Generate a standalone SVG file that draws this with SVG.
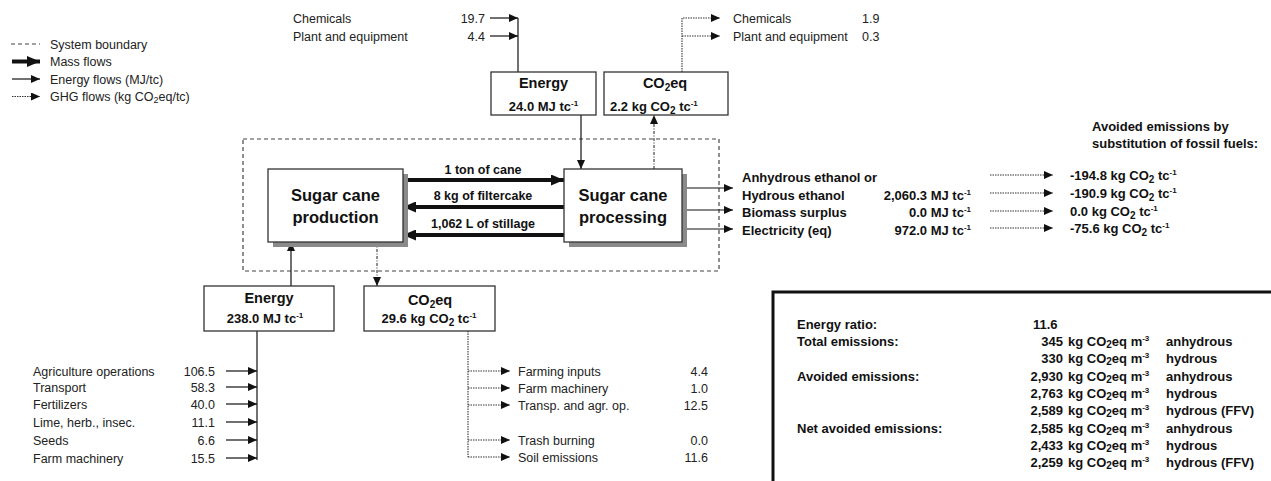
<svg xmlns="http://www.w3.org/2000/svg" width="1271" height="481" viewBox="0 0 1271 481">
<defs>
<style>
text{font-family:"Liberation Sans",Arial,sans-serif;fill:#222;font-size:12.5px}
.b{font-weight:bold;fill:#111}
.bx{font-weight:bold;fill:#111;font-size:13px}
.h{font-weight:bold;fill:#111;font-size:14.5px}
.big{font-weight:bold;fill:#111;font-size:16.5px}
.box{fill:#fff;stroke:#333;stroke-width:1.3}
.sh{fill:#8a8a8a}
.en{stroke:#111;stroke-width:1.2;fill:none}
.ms{stroke:#111;stroke-width:4;fill:none}
.gh{stroke:#333;stroke-width:1.1;stroke-dasharray:1.5 1;fill:none}
.dd{stroke:#333;stroke-width:1.1;stroke-dasharray:3 1.5 1 1.5;fill:none}
.bd{stroke:#444;stroke-width:1.2;stroke-dasharray:4 3;fill:none}
</style>
<marker id="a" markerUnits="userSpaceOnUse" markerWidth="9" markerHeight="8" refX="9" refY="4" orient="auto"><path d="M0,0 L9,4 L0,8 z" fill="#111"/></marker>
<marker id="am" markerUnits="userSpaceOnUse" markerWidth="13" markerHeight="11" refX="13" refY="5.5" orient="auto"><path d="M0,0 L13,5.5 L0,11 z" fill="#111"/></marker>
</defs>

<g id="legend">
<line class="bd" x1="11" y1="44" x2="40" y2="44"/>
<text x="50" y="48.5">System boundary</text>
<line class="ms" x1="12" y1="61.5" x2="40" y2="61.5" marker-end="url(#am)"/>
<text x="50" y="66">Mass flows</text>
<line class="en" x1="12" y1="79" x2="40" y2="79" marker-end="url(#a)"/>
<text x="50" y="83.5">Energy flows (MJ/tc)</text>
<line class="gh" x1="12" y1="96.5" x2="40" y2="96.5" marker-end="url(#a)"/>
<text x="50" y="101">GHG flows (kg CO<tspan font-size="9" dy="2">2</tspan><tspan dy="-2">eq/tc)</tspan></text>
</g>

<g id="boundary">
<rect class="bd" x="243" y="139" width="476" height="132"/>
</g>

<g id="connectors">
<!-- top energy inputs -->
<line class="en" x1="490" y1="18" x2="518" y2="18" marker-end="url(#a)"/>
<line class="en" x1="490" y1="36" x2="518" y2="36" marker-end="url(#a)"/>
<line class="en" x1="518" y1="18" x2="518" y2="72"/>
<line class="en" x1="581" y1="115" x2="581" y2="169" marker-end="url(#a)"/>
<!-- top GHG -->
<line class="dd" x1="654" y1="169" x2="654" y2="115" marker-end="url(#a)"/>
<polyline class="gh" points="682,72 682,18 720,18" marker-end="url(#a)"/>
<line class="gh" x1="682" y1="36" x2="720" y2="36" marker-end="url(#a)"/>
<!-- mass flows -->
<line class="ms" x1="403" y1="180" x2="564" y2="180" marker-end="url(#am)"/>
<line class="ms" x1="564" y1="207" x2="403" y2="207" marker-end="url(#am)"/>
<line class="ms" x1="564" y1="235" x2="403" y2="235" marker-end="url(#am)"/>
<!-- outputs -->
<line class="en" x1="682" y1="188" x2="733" y2="188" marker-end="url(#a)"/>
<line class="en" x1="682" y1="210" x2="733" y2="210" marker-end="url(#a)"/>
<line class="en" x1="682" y1="229" x2="733" y2="229" marker-end="url(#a)"/>
<line class="gh" x1="990" y1="175" x2="1053" y2="175" marker-end="url(#a)"/>
<line class="gh" x1="990" y1="193" x2="1053" y2="193" marker-end="url(#a)"/>
<line class="gh" x1="990" y1="211" x2="1053" y2="211" marker-end="url(#a)"/>
<line class="gh" x1="990" y1="228" x2="1053" y2="228" marker-end="url(#a)"/>
<!-- bottom -->
<line class="en" x1="291" y1="286" x2="291" y2="242" marker-end="url(#a)"/>
<line class="dd" x1="377" y1="242" x2="377" y2="286" marker-end="url(#a)"/>
<line class="en" x1="257" y1="331" x2="257" y2="460"/>
<line class="en" x1="226" y1="371" x2="257" y2="371" marker-end="url(#a)"/>
<line class="en" x1="226" y1="387" x2="257" y2="387" marker-end="url(#a)"/>
<line class="en" x1="226" y1="404" x2="257" y2="404" marker-end="url(#a)"/>
<line class="en" x1="226" y1="422" x2="257" y2="422" marker-end="url(#a)"/>
<line class="en" x1="226" y1="440" x2="257" y2="440" marker-end="url(#a)"/>
<line class="en" x1="226" y1="458" x2="257" y2="458" marker-end="url(#a)"/>
<line class="gh" x1="468" y1="331" x2="468" y2="457"/>
<line class="gh" x1="468" y1="371" x2="510" y2="371" marker-end="url(#a)"/>
<line class="gh" x1="468" y1="388" x2="510" y2="388" marker-end="url(#a)"/>
<line class="gh" x1="468" y1="405" x2="510" y2="405" marker-end="url(#a)"/>
<line class="gh" x1="468" y1="440" x2="510" y2="440" marker-end="url(#a)"/>
<line class="gh" x1="468" y1="457" x2="510" y2="457" marker-end="url(#a)"/>
</g>

<g id="top-inputs">
<text x="293" y="22.5">Chemicals</text>
<text x="485" y="22.5" text-anchor="end">19.7</text>
<text x="293" y="40.5">Plant and equipment</text>
<text x="485" y="40.5" text-anchor="end">4.4</text>
</g>

<g id="top-ghg">
<text x="733" y="22.5">Chemicals</text>
<text x="862" y="22.5">1.9</text>
<text x="733" y="40.5">Plant and equipment</text>
<text x="862" y="40.5">0.3</text>
</g>

<g id="energy-top">
<rect class="box" x="491" y="72" width="105" height="43"/>
<text class="h" x="543.5" y="88" text-anchor="middle">Energy</text>
<text class="bx" x="543.5" y="111" text-anchor="middle">24.0 MJ tc<tspan font-size="8" dy="-5">-1</tspan></text>
</g>

<g id="co2-top">
<rect class="box" x="604" y="72" width="124" height="43"/>
<text class="h" x="665" y="88" text-anchor="middle">CO<tspan font-size="10" dy="3">2</tspan><tspan dy="-3">eq</tspan></text>
<text class="bx" x="610" y="111">2.2 kg CO<tspan font-size="10" dy="3">2</tspan><tspan dy="-3"> tc</tspan><tspan font-size="8" dy="-5">-1</tspan></text>
</g>

<g id="production">
<rect class="sh" x="273" y="174" width="135" height="73"/>
<rect class="box" x="268" y="169" width="135" height="73"/>
<text class="big" x="335.5" y="201" text-anchor="middle">Sugar cane</text>
<text class="big" x="335.5" y="223" text-anchor="middle">production</text>
</g>

<g id="processing">
<rect class="sh" x="569" y="174" width="118" height="73"/>
<rect class="box" x="564" y="169" width="118" height="73"/>
<text class="big" x="623" y="201" text-anchor="middle">Sugar cane</text>
<text class="big" x="623" y="223" text-anchor="middle">processing</text>
</g>

<g id="mass-labels">
<text class="b" x="483" y="173.5" text-anchor="middle">1 ton of cane</text>
<text class="b" x="483" y="200" text-anchor="middle">8 kg of filtercake</text>
<text class="b" x="483" y="227.5" text-anchor="middle">1,062 L of stillage</text>
</g>

<g id="outputs">
<text class="bx" x="742" y="181.5">Anhydrous ethanol or</text>
<text class="bx" x="742" y="199.5">Hydrous ethanol</text>
<text class="bx" x="971" y="199.5" text-anchor="end">2,060.3 MJ tc<tspan font-size="8" dy="-5">-1</tspan></text>
<text class="bx" x="742" y="216.5">Biomass surplus</text>
<text class="bx" x="971" y="216.5" text-anchor="end">0.0 MJ tc<tspan font-size="8" dy="-5">-1</tspan></text>
<text class="bx" x="742" y="234.5">Electricity (eq)</text>
<text class="bx" x="971" y="234.5" text-anchor="end">972.0 MJ tc<tspan font-size="8" dy="-5">-1</tspan></text>
</g>

<g id="avoided">
<text class="bx" x="1092" y="131">Avoided emissions by</text>
<text class="bx" x="1092" y="148">substitution of fossil fuels:</text>
<text class="bx" x="1070" y="179.5">-194.8 kg CO<tspan font-size="10" dy="3">2</tspan><tspan dy="-3"> tc</tspan><tspan font-size="8" dy="-5">-1</tspan></text>
<text class="bx" x="1070" y="197.5">-190.9 kg CO<tspan font-size="10" dy="3">2</tspan><tspan dy="-3"> tc</tspan><tspan font-size="8" dy="-5">-1</tspan></text>
<text class="bx" x="1070" y="215.5">0.0 kg CO<tspan font-size="10" dy="3">2</tspan><tspan dy="-3"> tc</tspan><tspan font-size="8" dy="-5">-1</tspan></text>
<text class="bx" x="1070" y="232.5">-75.6 kg CO<tspan font-size="10" dy="3">2</tspan><tspan dy="-3"> tc</tspan><tspan font-size="8" dy="-5">-1</tspan></text>
</g>

<g id="energy-bottom">
<rect class="box" x="204" y="286" width="130" height="45"/>
<text class="h" x="269" y="303" text-anchor="middle">Energy</text>
<text class="bx" x="265" y="323" text-anchor="middle">238.0 MJ tc<tspan font-size="8" dy="-5">-1</tspan></text>
</g>

<g id="co2-bottom">
<rect class="box" x="364" y="286" width="131" height="45"/>
<text class="h" x="430" y="305" text-anchor="middle">CO<tspan font-size="10" dy="3">2</tspan><tspan dy="-3">eq</tspan></text>
<text class="bx" x="429" y="323" text-anchor="middle">29.6 kg CO<tspan font-size="10" dy="3">2</tspan><tspan dy="-3"> tc</tspan><tspan font-size="8" dy="-5">-1</tspan></text>
</g>

<g id="energy-inputs">
<text x="33" y="375.5">Agriculture operations</text><text x="215" y="375.5" text-anchor="end">106.5</text>
<text x="33" y="391.5">Transport</text><text x="215" y="391.5" text-anchor="end">58.3</text>
<text x="33" y="408.5">Fertilizers</text><text x="215" y="408.5" text-anchor="end">40.0</text>
<text x="33" y="426.5">Lime, herb., insec.</text><text x="215" y="426.5" text-anchor="end">11.1</text>
<text x="33" y="444.5">Seeds</text><text x="215" y="444.5" text-anchor="end">6.6</text>
<text x="33" y="462.5">Farm machinery</text><text x="215" y="462.5" text-anchor="end">15.5</text>
</g>

<g id="ghg-outputs">
<text x="518" y="375.5">Farming inputs</text><text x="708" y="375.5" text-anchor="end">4.4</text>
<text x="518" y="392.5">Farm machinery</text><text x="708" y="392.5" text-anchor="end">1.0</text>
<text x="518" y="409.5">Transp. and agr. op.</text><text x="708" y="409.5" text-anchor="end">12.5</text>
<text x="518" y="444.5">Trash burning</text><text x="708" y="444.5" text-anchor="end">0.0</text>
<text x="518" y="461.5">Soil emissions</text><text x="708" y="461.5" text-anchor="end">11.6</text>
</g>

<g id="summary">
<rect x="773" y="292" width="520" height="200" fill="#fff" stroke="#111" stroke-width="3"/>
<g class="bx">
<text class="bx" x="797" y="328.5">Energy ratio:</text>
<text class="bx" x="1033" y="328.5">11.6</text>
<text class="bx" x="797" y="346">Total emissions:</text>
<text class="bx" x="1063" y="346" text-anchor="end">345</text><text class="bx" x="1068" y="346">kg CO<tspan font-size="10" dy="2">2</tspan><tspan dy="-2">eq m</tspan><tspan font-size="8" dy="-5">-3</tspan></text><text class="bx" x="1166" y="346">anhydrous</text>
<text class="bx" x="1063" y="362.5" text-anchor="end">330</text><text class="bx" x="1068" y="362.5">kg CO<tspan font-size="10" dy="2">2</tspan><tspan dy="-2">eq m</tspan><tspan font-size="8" dy="-5">-3</tspan></text><text class="bx" x="1166" y="362.5">hydrous</text>
<text class="bx" x="797" y="380.5">Avoided emissions:</text>
<text class="bx" x="1063" y="380.5" text-anchor="end">2,930</text><text class="bx" x="1068" y="380.5">kg CO<tspan font-size="10" dy="2">2</tspan><tspan dy="-2">eq m</tspan><tspan font-size="8" dy="-5">-3</tspan></text><text class="bx" x="1166" y="380.5">anhydrous</text>
<text class="bx" x="1063" y="397.5" text-anchor="end">2,763</text><text class="bx" x="1068" y="397.5">kg CO<tspan font-size="10" dy="2">2</tspan><tspan dy="-2">eq m</tspan><tspan font-size="8" dy="-5">-3</tspan></text><text class="bx" x="1166" y="397.5">hydrous</text>
<text class="bx" x="1063" y="415" text-anchor="end">2,589</text><text class="bx" x="1068" y="415">kg CO<tspan font-size="10" dy="2">2</tspan><tspan dy="-2">eq m</tspan><tspan font-size="8" dy="-5">-3</tspan></text><text class="bx" x="1166" y="415">hydrous (FFV)</text>
<text class="bx" x="797" y="432.5">Net avoided emissions:</text>
<text class="bx" x="1063" y="432.5" text-anchor="end">2,585</text><text class="bx" x="1068" y="432.5">kg CO<tspan font-size="10" dy="2">2</tspan><tspan dy="-2">eq m</tspan><tspan font-size="8" dy="-5">-3</tspan></text><text class="bx" x="1166" y="432.5">anhydrous</text>
<text class="bx" x="1063" y="449.5" text-anchor="end">2,433</text><text class="bx" x="1068" y="449.5">kg CO<tspan font-size="10" dy="2">2</tspan><tspan dy="-2">eq m</tspan><tspan font-size="8" dy="-5">-3</tspan></text><text class="bx" x="1166" y="449.5">hydrous</text>
<text class="bx" x="1063" y="466.5" text-anchor="end">2,259</text><text class="bx" x="1068" y="466.5">kg CO<tspan font-size="10" dy="2">2</tspan><tspan dy="-2">eq m</tspan><tspan font-size="8" dy="-5">-3</tspan></text><text class="bx" x="1166" y="466.5">hydrous (FFV)</text>
</g>
</g>
</svg>
